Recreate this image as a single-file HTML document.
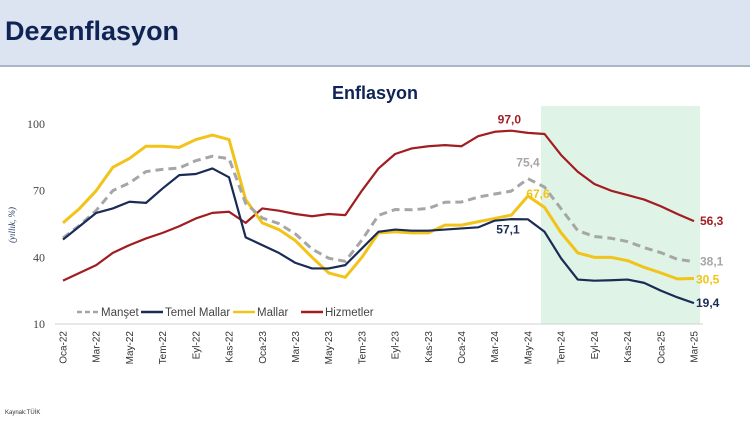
<!DOCTYPE html>
<html><head><meta charset="utf-8"><style>
body{margin:0;width:750px;height:421px;overflow:hidden;background:#fff;font-family:"Liberation Sans",sans-serif;}
#hdr{position:absolute;left:0;top:0;width:750px;height:65px;background:#dbe4f0;border-bottom:2px solid #a9b7c9;}
#ttl{position:absolute;left:5px;top:16px;font-size:27px;font-weight:bold;color:#0f2454;}
svg{position:absolute;left:0;top:0;}
</style></head><body>
<div id="hdr"><div id="ttl">Dezenflasyon</div></div>
<svg id="c" width="750" height="421"></svg>
<script>
const months=["Oca-22","Şub-22","Mar-22","Nis-22","May-22","Haz-22","Tem-22","Ağu-22","Eyl-22","Eki-22","Kas-22","Ara-22","Oca-23","Şub-23","Mar-23","Nis-23","May-23","Haz-23","Tem-23","Ağu-23","Eyl-23","Eki-23","Kas-23","Ara-23","Oca-24","Şub-24","Mar-24","Nis-24","May-24","Haz-24","Tem-24","Ağu-24","Eyl-24","Eki-24","Kas-24","Ara-24","Oca-25","Şub-25","Mar-25"];
const manset=[48.7,54.4,61.1,70,73.5,78.6,79.6,80.2,83.5,85.5,84.4,64.3,57.7,55.2,50.5,43.7,39.6,38.2,47.8,58.9,61.5,61.4,62,64.8,64.9,67.1,68.5,69.8,75.4,71.6,61.8,52,49.4,48.6,47.1,44.4,42.1,39.1,38.1];
const temel=[48,54,60,62,65,64.5,71,77,77.5,80,76,49,45.5,42,37.5,35,35,36.5,44,51.5,52.5,52,52,52.5,53,53.5,56.5,57.2,57.1,51.5,39.5,30,29.5,29.7,30,28.5,25,22,19.4];
const mallar=[55.5,62,70,80.5,84.5,90,90,89.5,93,95,93,66,55.5,52.5,47.5,40,33,31,40,51,51.5,51,51,54.5,54.5,56,57.5,59,67.6,62.5,51,42,40,40,38.5,35.5,33,30.3,30.5];
const hizmet=[29.5,33,36.5,42,45.5,48.5,51,54,57.5,60,60.5,55.5,62,61,59.5,58.5,59.5,59,70,80,86.5,89,90,90.5,90,94.5,96.5,97,96,95.5,86,78.5,73,70,68,66,63,59.5,56.3];
const yTicks=[10,40,70,100];
const x0=63,x1=694,yb=324,yt=124;
const X=i=>x0+(x1-x0)*i/(months.length-1);
const Y=v=>yb-(v-10)*(yb-yt)/90;
const svg=document.getElementById('c');const NS='http://www.w3.org/2000/svg';
function mk(t,a,p){const e=document.createElementNS(NS,t);for(const k in a)e.setAttribute(k,a[k]);(p||svg).appendChild(e);return e;}
let r=mk('rect',{x:541,y:106,width:159,height:218,fill:'#dff3e6'});


let t=mk('text',{x:375,y:99,'text-anchor':'middle','font-size':18,'font-weight':'bold',fill:'#0f2454'});t.textContent='Enflasyon';


t=mk('text',{transform:'translate(15,225) rotate(-90)','text-anchor':'middle','font-size':9,'font-style':'italic',fill:'#1f3864','font-family':'Liberation Serif'});t.textContent='(yıllık, %)';


yTicks.forEach(v=>{const e=mk('text',{x:45,y:Y(v)+4,'text-anchor':'end','font-size':12,fill:'#444','font-family':'Liberation Serif'});e.textContent=v;

});
let ax=mk('line',{x1:55,x2:703,y1:yb,y2:yb,stroke:'#d0d0d0','stroke-width':1});


months.forEach((m,i)=>{if(i%2)return;const e=mk('text',{transform:`translate(${X(i)+3.5},331) rotate(-90)`,'text-anchor':'end','font-size':10,fill:'#333'});e.textContent=m;

});
function line(d,col,w,dash,name){const p=mk('polyline',{points:d.map((v,i)=>X(i)+','+Y(v)).join(' '),fill:'none',stroke:col,'stroke-width':w,'stroke-linejoin':'round','stroke-dasharray':dash||'none'});

}
line(hizmet,'#a11d21',2.2,null,'series-hizmetler');
line(mallar,'#f2c318',3,null,'series-mallar');
line(manset,'#a6a6a6',3,'8,5','series-manset');
line(temel,'#1a2b55',2.2,null,'series-temel-mallar');
function lab(txt,x,y,col,anchor){const e=mk('text',{x:x,y:y,'font-size':12,'font-weight':'bold',fill:col,'text-anchor':anchor||'middle'});e.textContent=txt;

}
const L=months.length-1;
lab(hizmet[27].toFixed(1).replace('.',','),X(27)-2,Y(hizmet[27])-7,'#a11d21');
lab(manset[28].toFixed(1).replace('.',','),X(28),Y(manset[28])-12,'#a6a6a6');
lab(mallar[28].toFixed(1).replace('.',','),X(28)+10,Y(mallar[28])+2,'#f2c318');
lab(temel[28].toFixed(1).replace('.',','),X(28)-20,Y(temel[28])+14,'#1a2b55');
lab(hizmet[L].toFixed(1).replace('.',','),X(L)+6,Y(hizmet[L])+4,'#a11d21','start');
lab(manset[L].toFixed(1).replace('.',','),X(L)+6,Y(manset[L])+4,'#a6a6a6','start');
lab(mallar[L].toFixed(1).replace('.',','),X(L)+2,Y(mallar[L])+5,'#f2c318','start');
lab(temel[L].toFixed(1).replace('.',','),X(L)+2,Y(temel[L])+4,'#1a2b55','start');
const leg=[['Manşet','#a6a6a6','5,3',77],['Temel Mallar','#1a2b55',null,141],['Mallar','#f2c318',null,233],['Hizmetler','#a11d21',null,301]];
leg.forEach(l=>{const g=mk('g',{});


mk('line',{x1:l[3],x2:l[3]+22,y1:312,y2:312,stroke:l[1],'stroke-width':2.5,'stroke-dasharray':l[2]||'none'},g);
const e=mk('text',{x:l[3]+24,y:316,'font-size':11.5,fill:'#444'},g);e.textContent=l[0];});
t=mk('text',{x:5,y:414,'font-size':6,fill:'#333'});t.textContent='Kaynak:TÜİK';


</script>
</body></html>
